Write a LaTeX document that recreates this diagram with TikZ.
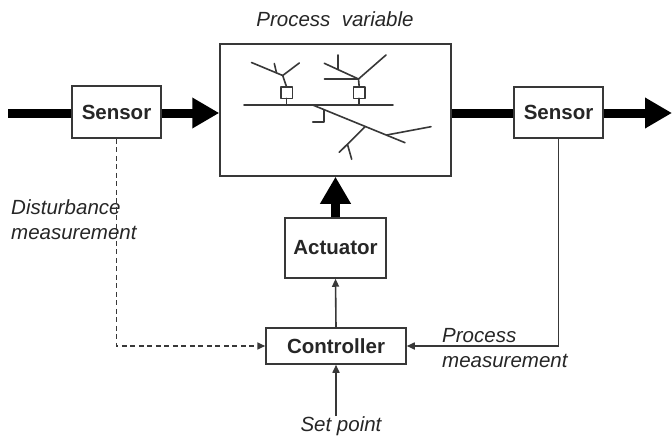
\documentclass[tikz,border=0pt]{standalone}
\usepackage{fontspec}
\setmainfont{Liberation Sans}
\usetikzlibrary{arrows.meta}
\definecolor{ink}{HTML}{262626}
\definecolor{wire}{HTML}{383838}
\tikzset{
  block/.style={draw=wire, line width=1.5pt, fill=white, inner sep=0pt,
    font=\fontsize{20.5}{24}\selectfont\bfseries, text=ink},
  label/.style={font=\fontsize{20.5}{25}\selectfont\itshape, text=ink, inner sep=0pt},
  flow/.style={line width=9pt, draw=black, -{Triangle[length=27pt,width=29pt]}},
  flowplain/.style={line width=9pt, draw=black},
  signal/.style={line width=1.6pt, draw=wire, -{Triangle[length=8pt,width=7pt]}},
  dsignal/.style={signal, dash pattern=on 5pt off 3.5pt},
  pipe/.style={line width=1.6pt, draw=wire, line cap=round, line join=round},
}
\begin{document}
\begin{tikzpicture}[x=1pt, y=-1pt]
\useasboundingbox (0,0) rectangle (672,436);

% blocks
\node[block, minimum width=89pt, minimum height=52pt] (s1) at (116.5,112) {Sensor};
\node[block, minimum width=89pt, minimum height=51pt] (s2) at (558.5,112.5) {Sensor};
\node[block, minimum width=231pt, minimum height=132pt] (proc) at (335.5,110) {};
\node[block, minimum width=101pt, minimum height=60pt] (act) at (335.5,248) {Actuator};
\node[block, minimum width=140pt, minimum height=36pt] (ctrl) at (336,346) {Controller};

% labels
\node[label] (pv) at (335,19) {Process\ \ variable};
\node[label, align=left, anchor=west] (dm) at (11,220) {Disturbance\\measurement};
\node[label, align=left, anchor=west] (pm) at (442,348) {Process\\measurement};
\node[label] (sp) at (341,426) {Set point};

% free ends of the main flow
\coordinate (in) at (8,113);
\coordinate (out) at (672,113);
\coordinate (spin) at (336,416);

% main material flow
\draw[flowplain] (in) -- (s1.west |- in);
\draw[flow] (s1.east |- in) -- (proc.west |- in);
\draw[flowplain] (proc.east |- in) -- (s2.west |- in);
\draw[flow] (s2.east |- in) -- (out);
\draw[flow] (act.north) -- (proc.south);

% signals
\draw[signal] (ctrl.north) -- (act.south);
\draw[signal] (spin) -- (ctrl.south);
\draw[dsignal] (s1.south) -- (s1.south |- ctrl.west) -- (ctrl.west);
\draw[signal] (s2.south) -- (s2.south |- ctrl.east) -- (ctrl.east);

% process piping sketch
\begin{scope}[pipe]
  % header
  \draw (244,105) -- (393,105);
  % left valve
  \draw[fill=white] (280.7,86.7) rectangle (292.3,98.3);
  \draw (286.5,98.3) -- (286.5,105);
  \draw (286.5,86.7) -- (282.7,75.5);
  \draw (251.5,62.5) -- (282.7,75.5) -- (299.3,63);
  \draw (276.5,72.8) -- (274.3,63.5);
  % right valve
  \draw[fill=white] (353.3,86.7) rectangle (365,98.3);
  \draw (359.2,98.3) -- (359.2,105);
  \draw (359.2,86.7) -- (358.5,79);
  \draw (324.3,79) -- (358.5,79) -- (386,55);
  \draw (324.3,63.3) -- (358.5,79);
  \draw (337.7,55) -- (337.7,69.5);
  % branch line
  \draw (312.7,105) -- (405,142.7);
  \draw (323.8,109.6) -- (323.8,121.7) -- (312.7,121.7);
  \draw (365,126.7) -- (339.3,152.3);
  \draw (347.5,144.5) -- (351.7,159.3);
  \draw (386.7,135) -- (431,126.7);
\end{scope}
\end{tikzpicture}
\end{document}
